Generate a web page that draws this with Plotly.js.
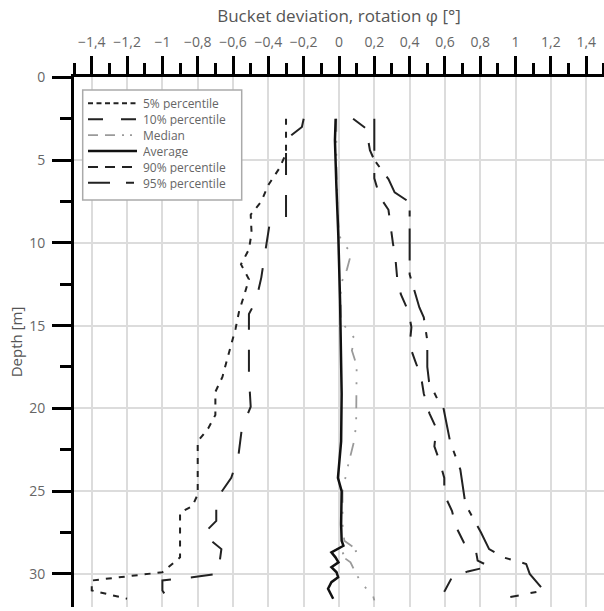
<!DOCTYPE html>
<html>
<head>
<meta charset="utf-8">
<script src="https://cdn.plot.ly/plotly-3.0.1.min.js"></script>
<style>html,body{margin:0;padding:0;background:#fff;}#chart{width:604px;height:611px;}</style>
</head>
<body>
<div id="chart"></div>
<script>
// ---- Data (depth in m, rotation in degrees) ----
const seriesNames = ["5% percentile", "10% percentile", "Median", "Average", "90% percentile", "95% percentile"];

const depthP5 = [2.5, 3.8, 4.6, 5.5, 6.5, 7.5, 8.3, 9.4, 10.4, 11.3, 12.2, 13.1, 14.1, 15.2, 16.2, 17.3, 18.1, 19.0, 20.4, 21.2, 22.0, 25.2, 25.9, 26.3, 29.0, 29.9, 30.4, 31.0, 31.5];
const valP5   = [-0.30, -0.30, -0.30, -0.338, -0.40, -0.44, -0.50, -0.495, -0.51, -0.555, -0.51, -0.535, -0.565, -0.586, -0.61, -0.64, -0.66, -0.70, -0.70, -0.74, -0.80, -0.80, -0.83, -0.90, -0.90, -1.0, -1.40, -1.40, -1.20];

const depthP10 = [2.5, 3.0, 3.5, 3.8, 8.5, 9.0, 10.7, 12.1, 13.5, 14.3, 18.1, 19.9, 21.2, 22.9, 24.2, 25.5, 26.8, 27.6, 28.5, 30.0, 30.2, 30.4, 31.0, 31.5];
const valP10   = [-0.20, -0.21, -0.27, -0.30, -0.30, -0.395, -0.42, -0.44, -0.47, -0.51, -0.51, -0.50, -0.55, -0.57, -0.61, -0.695, -0.695, -0.77, -0.666, -0.685, -0.83, -1.0, -1.0, -0.97];

const depthMed = [2.5, 5.0, 7.5, 9.5, 10.0, 10.6, 11.6, 12.5, 14.5, 15.0, 15.8, 16.5, 17.4, 18.5, 20.0, 21.0, 22.0, 23.5, 25.0, 27.0, 28.0, 28.2, 28.6, 28.8, 29.3, 30.0, 30.7, 31.2, 31.6];
const valMed   = [-0.015, -0.015, -0.01, 0.0, 0.02, 0.07, 0.045, 0.01, 0.01, 0.03, 0.09, 0.073, 0.10, 0.10, 0.097, 0.097, 0.085, 0.05, 0.02, 0.02, 0.03, 0.055, 0.11, 0.0, 0.065, 0.097, 0.136, 0.19, 0.20];

const depthAvg = [2.5, 3.8, 6.5, 9.5, 13.5, 17.5, 19.1, 22.0, 24.2, 25.0, 27.0, 28.0, 28.3, 28.7, 29.0, 29.3, 29.6, 29.9, 30.2, 30.5, 30.9, 31.5];
const valAvg   = [-0.019, -0.023, -0.015, -0.004, 0.006, 0.012, 0.015, 0.012, -0.006, 0.015, 0.012, 0.015, 0.025, -0.043, -0.02, -0.003, -0.043, -0.014, -0.005, -0.043, -0.062, -0.033];

const depthP90 = [2.5, 3.1, 4.4, 5.0, 6.1, 7.2, 8.0, 8.9, 10.0, 11.0, 12.2, 13.1, 14.2, 15.1, 16.2, 17.1, 18.1, 19.1, 20.3, 21.2, 22.3, 23.2, 24.2, 25.2, 26.2, 27.1, 28.1, 28.6, 29.2, 29.55, 29.85, 30.2, 31.0, 31.5];
const valP90   = [0.08, 0.154, 0.175, 0.20, 0.20, 0.23, 0.28, 0.29, 0.305, 0.32, 0.33, 0.35, 0.395, 0.41, 0.40, 0.43, 0.465, 0.48, 0.512, 0.551, 0.54, 0.57, 0.596, 0.596, 0.64, 0.66, 0.707, 0.775, 0.785, 0.853, 0.73, 0.64, 0.60, 0.57];

const depthP95 = [2.5, 5.0, 6.15, 6.95, 7.55, 9.9, 11.9, 13.9, 14.5, 15.9, 17.5, 18.4, 19.5, 19.9, 22.0, 23.7, 25.8, 27.5, 28.5, 29.0, 29.4, 30.0, 31.0, 31.4];
const valP95   = [0.20, 0.20, 0.28, 0.315, 0.40, 0.40, 0.40, 0.455, 0.48, 0.50, 0.50, 0.51, 0.56, 0.59, 0.629, 0.687, 0.716, 0.804, 0.85, 0.93, 1.06, 1.08, 1.16, 0.97];

// ---- Axis ticks ----
const xTickVals  = [-1.4, -1.2, -1.0, -0.8, -0.6, -0.4, -0.2, 0, 0.2, 0.4, 0.6, 0.8, 1.0, 1.2, 1.4];
const xTickText  = ["−1,4", "−1,2", "−1", "−0,8", "−0,6", "−0,4", "−0,2", "0", "0,2", "0,4", "0,6", "0,8", "1", "1,2", "1,4"];
const xMinorVals = [-1.5, -1.3, -1.1, -0.9, -0.7, -0.5, -0.3, -0.1, 0.1, 0.3, 0.5, 0.7, 0.9, 1.1, 1.3, 1.5];
const yTickVals  = [0, 5, 10, 15, 20, 25, 30];
const yTickText  = ["0", "5", "10", "15", "20", "25", "30"];
const yMinorVals = [2.5, 7.5, 12.5, 17.5, 22.5, 27.5];

const FONT = "'Open Sans', 'Noto Sans', sans-serif";
const TXT = "#666";

// ---- Styles per series ----
const colors      = ["#222", "#222", "#9a9a9a", "#111", "#222", "#222"];
const widths      = [2, 2, 1.8, 2.5, 2, 2];
const plotDashes  = ["6px,7px", "22px,20px", "13px,9px,2px,11px,2px,11px", "solid", "15px,16px", "32px,12px,6px,12px"];
const legendDashes = ["5px,3.5px", "15px,18px", "10px,7px,10px,7px,2px,6px,2px,6px", "solid", "10px,7px", "22px,16px,8px,10px"];

const xs = [valP5, valP10, valMed, valAvg, valP90, valP95];
const ys = [depthP5, depthP10, depthMed, depthAvg, depthP90, depthP95];

const data = seriesNames.map((n, i) => ({
  type: "scatter", mode: "lines", name: n, x: xs[i], y: ys[i],
  line: {color: colors[i], width: widths[i], dash: plotDashes[i]}
}));

// ---- Legend (drawn in paper coordinates) ----
const M = {l: 74, r: 0, t: 77, b: 4};
const PW = 604 - M.l - M.r, PH = 611 - M.t - M.b;
const px2x = p => (p - M.l) / PW;
const px2y = p => 1 - (p - M.t) / PH;

const shapes = [{
  type: "rect", xref: "paper", yref: "paper", layer: "above",
  x0: px2x(82.7), x1: px2x(241.7), y0: px2y(200), y1: px2y(90),
  fillcolor: "#fff", line: {color: "#aaa", width: 1.5}
}];
const annotations = [];
seriesNames.forEach((n, i) => {
  const yy = px2y(103.3 + i * 15.9);
  shapes.push({type: "line", xref: "paper", yref: "paper", layer: "above",
    x0: px2x(88), x1: px2x(137), y0: yy, y1: yy,
    line: {color: colors[i], width: widths[i], dash: legendDashes[i]}});
  annotations.push({xref: "paper", yref: "paper", x: px2x(142), y: yy,
    xanchor: "left", yanchor: "middle", showarrow: false, text: n,
    height: 14, valign: "middle", borderpad: 0,
    font: {family: FONT, size: 12, color: TXT}});
});

const layout = {
  width: 604, height: 611,
  margin: {l: M.l, r: M.r, t: M.t, b: M.b, pad: 0},
  paper_bgcolor: "#fff", plot_bgcolor: "#fff",
  font: {family: FONT, color: TXT, size: 13},
  showlegend: false,
  shapes: shapes,
  annotations: annotations,
  xaxis: {
    side: "top", range: [-1.5005, 1.5005],
    tickmode: "array", tickvals: xTickVals, ticktext: xTickText,
    ticks: "outside", ticklen: 18, tickwidth: 3, tickcolor: "#000",
    ticklabelstandoff: 3,
    minor: {tickmode: "array", tickvals: xMinorVals, ticks: "outside", ticklen: 11, tickwidth: 3, tickcolor: "#000", showgrid: false},
    showline: true, linecolor: "#000", linewidth: 3,
    showgrid: true, gridcolor: "#dcdcdc", gridwidth: 2,
    zeroline: false,
    tickfont: {family: FONT, size: 14, color: TXT},
    title: {text: "Bucket deviation, rotation φ [°]", font: {family: FONT, size: 17, color: "#555"}, standoff: 6}
  },
  yaxis: {
    range: [32, -0.02],
    tickmode: "array", tickvals: yTickVals, ticktext: yTickText,
    ticks: "outside", ticklen: 19, tickwidth: 3, tickcolor: "#000",
    ticklabelstandoff: 4,
    minor: {tickmode: "array", tickvals: yMinorVals, ticks: "outside", ticklen: 11, tickwidth: 3, tickcolor: "#000", showgrid: false},
    showline: true, linecolor: "#000", linewidth: 3,
    showgrid: true, gridcolor: "#dcdcdc", gridwidth: 2,
    zeroline: false,
    tickfont: {family: FONT, size: 14, color: TXT},
    title: {text: "Depth [m]", font: {family: FONT, size: 15, color: "#555"}, standoff: 3}
  }
};

Plotly.newPlot("chart", data, layout, {staticPlot: true, displayModeBar: false});
</script>
</body>
</html>
